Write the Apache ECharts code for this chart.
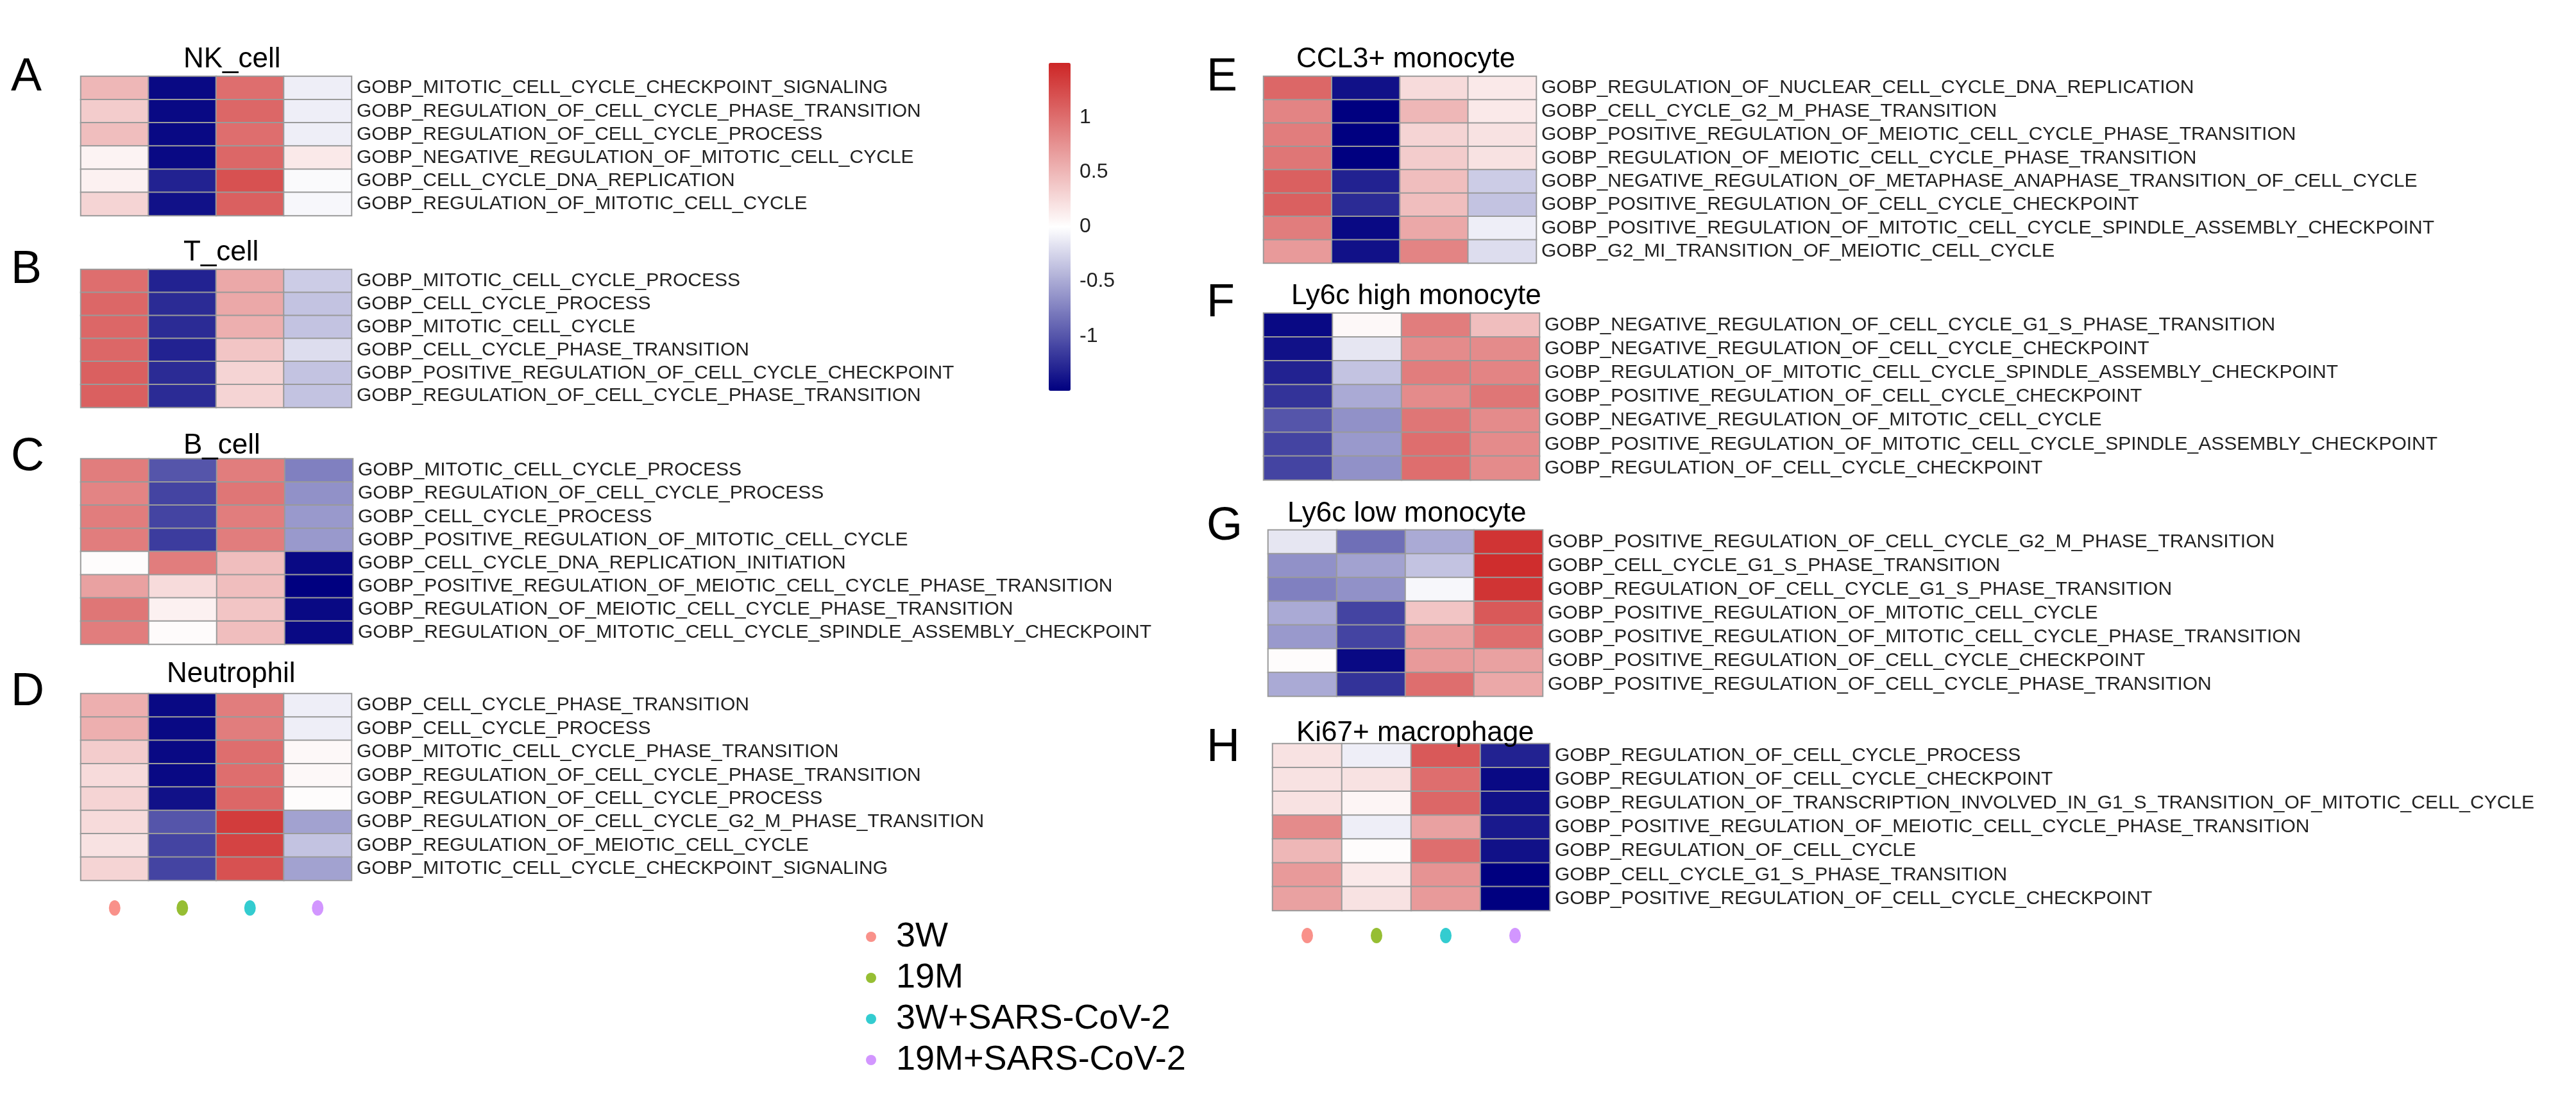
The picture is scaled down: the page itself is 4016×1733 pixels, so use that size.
<!DOCTYPE html>
<html><head><meta charset="utf-8">
<script src="https://cdn.jsdelivr.net/npm/echarts@6/dist/echarts.min.js"></script>
<style>html,body{margin:0;padding:0;background:#fff}#c{width:4016px;height:1733px}</style>
</head><body><div id="c"></div>
<script>
const groups = ['3W','19M','3W+SARS-CoV-2','19M+SARS-CoV-2'];
const groupColors = ['#F8766D','#7CAE00','#00BFC4','#C77CFF'];
const colorbarTicks = [-1.5,-1,-0.5,0,0.5,1,1.5];

const panelLetters = ['A','B','C','D','E','F','G','H'];
const panelTitles = ['NK_cell','T_cell','B_cell','Neutrophil','CCL3+ monocyte','Ly6c high monocyte','Ly6c low monocyte','Ki67+ macrophage'];

const rowsA = ['GOBP_MITOTIC_CELL_CYCLE_CHECKPOINT_SIGNALING','GOBP_REGULATION_OF_CELL_CYCLE_PHASE_TRANSITION','GOBP_REGULATION_OF_CELL_CYCLE_PROCESS','GOBP_NEGATIVE_REGULATION_OF_MITOTIC_CELL_CYCLE','GOBP_CELL_CYCLE_DNA_REPLICATION','GOBP_REGULATION_OF_MITOTIC_CELL_CYCLE'];
const valsA = [[0.5,-1.45,1.0,-0.1],[0.35,-1.45,1.05,-0.1],[0.45,-1.45,1.0,-0.1],[0.08,-1.45,1.05,0.15],[0.1,-1.3,1.2,-0.03],[0.3,-1.4,1.1,-0.05]];

const rowsB = ['GOBP_MITOTIC_CELL_CYCLE_PROCESS','GOBP_CELL_CYCLE_PROCESS','GOBP_MITOTIC_CELL_CYCLE','GOBP_CELL_CYCLE_PHASE_TRANSITION','GOBP_POSITIVE_REGULATION_OF_CELL_CYCLE_CHECKPOINT','GOBP_REGULATION_OF_CELL_CYCLE_PHASE_TRANSITION'];
const valsB = [[1.0,-1.3,0.6,-0.3],[1.05,-1.25,0.6,-0.35],[1.05,-1.25,0.55,-0.35],[1.05,-1.3,0.4,-0.2],[1.1,-1.25,0.3,-0.35],[1.1,-1.25,0.3,-0.35]];

const rowsC = ['GOBP_MITOTIC_CELL_CYCLE_PROCESS','GOBP_REGULATION_OF_CELL_CYCLE_PROCESS','GOBP_CELL_CYCLE_PROCESS','GOBP_POSITIVE_REGULATION_OF_MITOTIC_CELL_CYCLE','GOBP_CELL_CYCLE_DNA_REPLICATION_INITIATION','GOBP_POSITIVE_REGULATION_OF_MEIOTIC_CELL_CYCLE_PHASE_TRANSITION','GOBP_REGULATION_OF_MEIOTIC_CELL_CYCLE_PHASE_TRANSITION','GOBP_REGULATION_OF_MITOTIC_CELL_CYCLE_SPINDLE_ASSEMBLY_CHECKPOINT'];
const valsC = [[0.9,-1.0,0.9,-0.75],[0.85,-1.1,0.95,-0.65],[0.9,-1.1,0.9,-0.6],[0.9,-1.15,0.9,-0.6],[0.02,0.9,0.45,-1.45],[0.65,0.25,0.45,-1.5],[0.95,0.1,0.4,-1.45],[0.9,0.03,0.45,-1.45]];

const rowsD = ['GOBP_CELL_CYCLE_PHASE_TRANSITION','GOBP_CELL_CYCLE_PROCESS','GOBP_MITOTIC_CELL_CYCLE_PHASE_TRANSITION','GOBP_REGULATION_OF_CELL_CYCLE_PHASE_TRANSITION','GOBP_REGULATION_OF_CELL_CYCLE_PROCESS','GOBP_REGULATION_OF_CELL_CYCLE_G2_M_PHASE_TRANSITION','GOBP_REGULATION_OF_MEIOTIC_CELL_CYCLE','GOBP_MITOTIC_CELL_CYCLE_CHECKPOINT_SIGNALING'];
const valsD = [[0.55,-1.45,0.9,-0.1],[0.55,-1.45,0.9,-0.1],[0.35,-1.45,1.0,0.05],[0.25,-1.45,1.0,0.05],[0.3,-1.4,1.05,0.02],[0.25,-1.0,1.35,-0.55],[0.2,-1.1,1.3,-0.35],[0.3,-1.1,1.2,-0.55]];

const rowsE = ['GOBP_REGULATION_OF_NUCLEAR_CELL_CYCLE_DNA_REPLICATION','GOBP_CELL_CYCLE_G2_M_PHASE_TRANSITION','GOBP_POSITIVE_REGULATION_OF_MEIOTIC_CELL_CYCLE_PHASE_TRANSITION','GOBP_REGULATION_OF_MEIOTIC_CELL_CYCLE_PHASE_TRANSITION','GOBP_NEGATIVE_REGULATION_OF_METAPHASE_ANAPHASE_TRANSITION_OF_CELL_CYCLE','GOBP_POSITIVE_REGULATION_OF_CELL_CYCLE_CHECKPOINT','GOBP_POSITIVE_REGULATION_OF_MITOTIC_CELL_CYCLE_SPINDLE_ASSEMBLY_CHECKPOINT','GOBP_G2_MI_TRANSITION_OF_MEIOTIC_CELL_CYCLE'];
const valsE = [[1.05,-1.4,0.25,0.15],[0.85,-1.5,0.5,0.15],[0.9,-1.5,0.3,0.2],[0.95,-1.5,0.35,0.2],[1.1,-1.3,0.45,-0.3],[1.1,-1.25,0.45,-0.35],[0.9,-1.45,0.6,-0.1],[0.7,-1.4,0.85,-0.2]];

const rowsF = ['GOBP_NEGATIVE_REGULATION_OF_CELL_CYCLE_G1_S_PHASE_TRANSITION','GOBP_NEGATIVE_REGULATION_OF_CELL_CYCLE_CHECKPOINT','GOBP_REGULATION_OF_MITOTIC_CELL_CYCLE_SPINDLE_ASSEMBLY_CHECKPOINT','GOBP_POSITIVE_REGULATION_OF_CELL_CYCLE_CHECKPOINT','GOBP_NEGATIVE_REGULATION_OF_MITOTIC_CELL_CYCLE','GOBP_POSITIVE_REGULATION_OF_MITOTIC_CELL_CYCLE_SPINDLE_ASSEMBLY_CHECKPOINT','GOBP_REGULATION_OF_CELL_CYCLE_CHECKPOINT'];
const valsF = [[-1.45,0.05,0.9,0.45],[-1.4,-0.15,0.8,0.8],[-1.3,-0.35,0.9,0.85],[-1.2,-0.5,0.8,0.95],[-1.0,-0.65,0.95,0.8],[-1.1,-0.6,1.0,0.8],[-1.1,-0.65,1.0,0.8]];

const rowsG = ['GOBP_POSITIVE_REGULATION_OF_CELL_CYCLE_G2_M_PHASE_TRANSITION','GOBP_CELL_CYCLE_G1_S_PHASE_TRANSITION','GOBP_REGULATION_OF_CELL_CYCLE_G1_S_PHASE_TRANSITION','GOBP_POSITIVE_REGULATION_OF_MITOTIC_CELL_CYCLE','GOBP_POSITIVE_REGULATION_OF_MITOTIC_CELL_CYCLE_PHASE_TRANSITION','GOBP_POSITIVE_REGULATION_OF_CELL_CYCLE_CHECKPOINT','GOBP_POSITIVE_REGULATION_OF_CELL_CYCLE_PHASE_TRANSITION'];
const valsG = [[-0.15,-0.85,-0.5,1.4],[-0.65,-0.55,-0.35,1.45],[-0.75,-0.65,-0.05,1.4],[-0.5,-1.1,0.4,1.15],[-0.6,-1.1,0.65,1.0],[0.02,-1.45,0.7,0.65],[-0.5,-1.2,1.0,0.6]];

const rowsH = ['GOBP_REGULATION_OF_CELL_CYCLE_PROCESS','GOBP_REGULATION_OF_CELL_CYCLE_CHECKPOINT','GOBP_REGULATION_OF_TRANSCRIPTION_INVOLVED_IN_G1_S_TRANSITION_OF_MITOTIC_CELL_CYCLE','GOBP_POSITIVE_REGULATION_OF_MEIOTIC_CELL_CYCLE_PHASE_TRANSITION','GOBP_REGULATION_OF_CELL_CYCLE','GOBP_CELL_CYCLE_G1_S_PHASE_TRANSITION','GOBP_POSITIVE_REGULATION_OF_CELL_CYCLE_CHECKPOINT'];
const valsH = [[0.2,-0.1,1.15,-1.3],[0.2,0.2,1.0,-1.45],[0.2,0.07,1.05,-1.4],[0.8,-0.1,0.65,-1.35],[0.5,0.02,1.0,-1.4],[0.7,0.15,0.75,-1.5],[0.65,0.2,0.7,-1.5]];

const allRows = [rowsA,rowsB,rowsC,rowsD,rowsE,rowsF,rowsG,rowsH];
const allVals = [valsA,valsB,valsC,valsD,valsE,valsF,valsG,valsH];

const boxes = [
  {l:126,t:119,w:422,h:217, lx:12, ly:80, tx:281, ty:66},
  {l:126,t:420,w:422,h:215, lx:12, ly:380, tx:281, ty:367},
  {l:126,t:715,w:424,h:289, lx:12, ly:672, tx:281, ty:668},
  {l:126,t:1081,w:422,h:291, lx:12, ly:1038, tx:255, ty:1024},
  {l:1970,t:119,w:425,h:291, lx:1876, ly:80, tx:2016, ty:66},
  {l:1970,t:488,w:430,h:260, lx:1876, ly:432, tx:2008, ty:435},
  {l:1977,t:826,w:428,h:259, lx:1876, ly:780, tx:2002, ty:774},
  {l:1984,t:1159,w:432,h:260, lx:1876, ly:1125, tx:2016, ty:1116}
];

const grids=[], xAxes=[], yAxes=[], series=[], titles=[];
boxes.forEach((b,i)=>{
  grids.push({left:b.l, top:b.t, width:b.w, height:b.h});
  xAxes.push({type:'category', data:groups, gridIndex:i, show:false});
  yAxes.push({type:'category', data:allRows[i], gridIndex:i, inverse:true, position:'right',
    axisLine:{show:false}, axisTick:{show:false},
    axisLabel:{fontFamily:'Liberation Sans', fontSize:30, color:'#222', margin:8, interval:0}});
  const d=[];
  allVals[i].forEach((r,ri)=>r.forEach((v,ci)=>d.push([ci,ri,v])));
  series.push({type:'heatmap', xAxisIndex:i, yAxisIndex:i, data:d,
    itemStyle:{borderColor:'#9a9a9a', borderWidth:2}, silent:true});
  titles.push({text:panelLetters[i], left:b.lx, top:b.ly, textStyle:{fontFamily:'Liberation Sans', fontSize:72, fontWeight:'normal', color:'#000'}});
  titles.push({text:panelTitles[i], left:b.tx, top:b.ty, textStyle:{fontFamily:'Liberation Sans', fontSize:44, fontWeight:'normal', color:'#000'}});
});

const dotGrids = [{l:126,t:1395,w:422}, {l:1984,t:1438,w:432}];
dotGrids.forEach((g)=>{
  const gi = grids.length;
  grids.push({left:g.l, top:g.t, width:g.w, height:40});
  xAxes.push({type:'category', data:groups, gridIndex:gi, show:false});
  yAxes.push({type:'value', gridIndex:gi, show:false, min:0, max:2});
  groups.forEach((name,k)=>{
    series.push({type:'scatter', name:name, xAxisIndex:gi, yAxisIndex:gi, symbolSize:[18,24],
      itemStyle:{color:groupColors[k]}, data:[[k,1]], silent:true});
  });
});

const cbi = grids.length;
grids.push({left:1635, top:98, width:34, height:511});
xAxes.push({type:'value', gridIndex:cbi, show:false});
yAxes.push({type:'value', gridIndex:cbi, position:'right', min:colorbarTicks[0], max:colorbarTicks[colorbarTicks.length-1], interval:0.5,
  axisLine:{show:false}, axisTick:{show:false}, splitLine:{show:false},
  axisLabel:{fontFamily:'Liberation Sans', fontSize:32, color:'#222', margin:14,
    formatter:v=>(Math.abs(v)>1.2?'':String(v))}});

const chart = echarts.init(document.getElementById('c'));
chart.setOption({
  backgroundColor:'#fff',
  animation:false,
  title:titles,
  grid:grids, xAxis:xAxes, yAxis:yAxes, series:series,
  visualMap:{type:'continuous', min:-1.5, max:1.5, seriesIndex:[0,1,2,3,4,5,6,7],
    inRange:{color:['#000080','#ffffff','#CD2626']}, calculable:false, text:['',''],
    left:1635, top:98, itemWidth:34, itemHeight:511, padding:0, showLabel:false},
  legend:{data:groups, orient:'vertical', left:1345, top:1428, icon:'circle', itemWidth:16, itemHeight:16, itemGap:10,
    textStyle:{fontFamily:'Liberation Sans', fontSize:54, color:'#000', padding:[0,0,0,26]}}
});
</script></body></html>
